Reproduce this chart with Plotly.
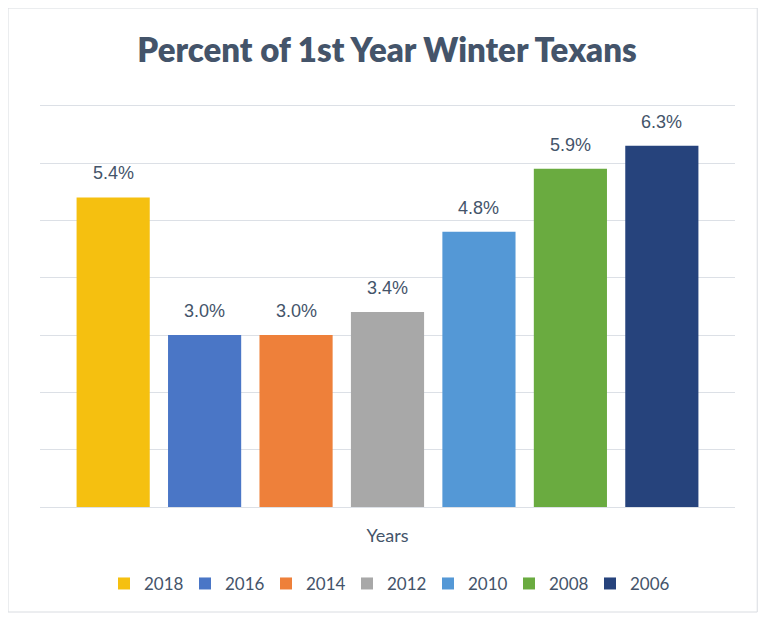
import plotly.graph_objects as go

# data
years = ["2018", "2016", "2014", "2012", "2010", "2008", "2006"]
percent = [5.4, 3.0, 3.0, 3.4, 4.8, 5.9, 6.3]
bar_colors = ["#F5C010", "#4A76C6", "#EE803A", "#A8A8A8", "#5498D6", "#6AAB40", "#26437C"]

text_color = "#44546A"
grid_color = "#DCE0E6"

fig = go.Figure()

for i, (yr, val, col) in enumerate(zip(years, percent, bar_colors)):
    fig.add_trace(go.Bar(
        x=[yr],
        y=[val],
        name=yr,
        marker=dict(color=col, line=dict(width=0)),
        hovertemplate="%{x}: %{y:.1f}%<extra></extra>",
    ))
    # value labels sit a bit above the bar top (category index, since
    # numeric-looking names would be read as positions)
    fig.add_annotation(
        x=i, y=val,
        text=f"{val:.1f}%",
        showarrow=False,
        yanchor="bottom",
        yshift=12,
        font=dict(family="Liberation Sans, Arial", size=18, color=text_color),
    )

# page body adds 8px offset, so margins are shifted to compensate
fig.update_layout(
    width=768,
    height=620,
    margin=dict(l=32, r=41, t=92, b=121),
    paper_bgcolor="white",
    plot_bgcolor="white",
    barmode="relative",
    bargap=0.2,
    title=dict(
        text="Percent of 1st Year Winter Texans",
        x=(387 - 8) / 768, xanchor="center",
        y=1 - 42 / 620, yanchor="middle",
        font=dict(family="Lato, Open Sans", size=33, color=text_color, weight=800),
    ),
    legend=dict(
        orientation="h",
        x=0.5, xanchor="center",
        y=-0.189, yanchor="middle",
        font=dict(family="Lato, Open Sans", size=17, color=text_color),
        itemwidth=30,
        entrywidth=36,
        traceorder="normal",
    ),
    showlegend=True,
)

fig.update_xaxes(
    type="category",
    range=[-0.8, 6.8],
    showticklabels=False,
    showgrid=False,
    showline=False,
    zeroline=False,
    ticks="",
    title=dict(text="Years", font=dict(family="Lato, Open Sans", size=18, color=text_color), standoff=22),
)
fig.update_yaxes(
    range=[0, 7.1],
    tickvals=[1, 2, 3, 4, 5, 6, 7],
    showticklabels=False,
    showgrid=True,
    gridcolor=grid_color,
    gridwidth=1,
    zeroline=True,
    zerolinecolor=grid_color,
    zerolinewidth=1,
    ticks="",
)

# light frame round the whole chart
fig.add_shape(
    type="rect", xref="paper", yref="paper",
    x0=-0.046, x1=1.032, y0=-0.258, y1=1.226,
    line=dict(color="#D9DCE1", width=1),
    fillcolor="rgba(0,0,0,0)",
    layer="below",
)

fig.write_html("out.html")
